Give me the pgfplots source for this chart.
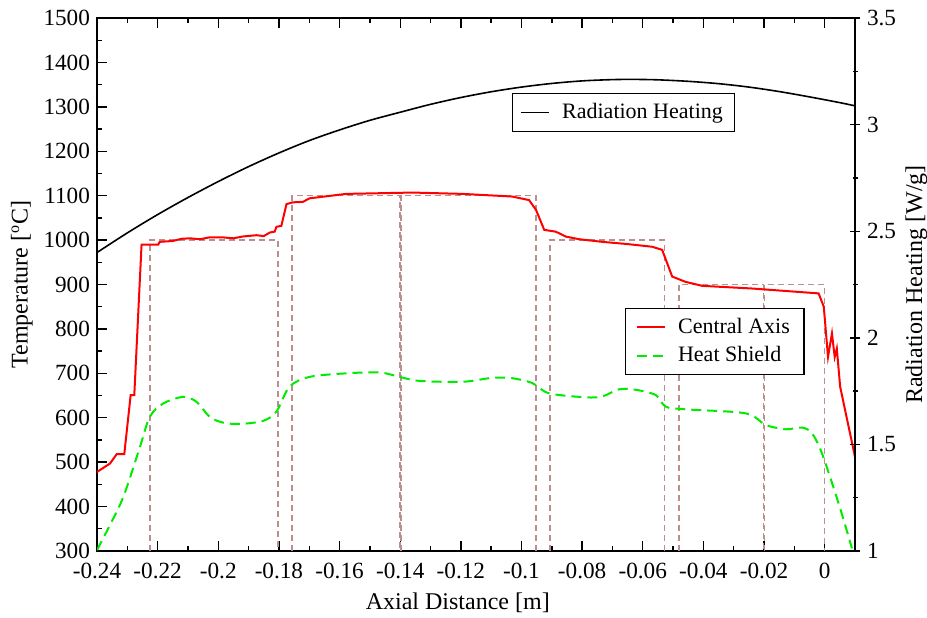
\documentclass[border=0pt]{standalone}
\usepackage{pgfplots}
\pgfplotsset{compat=1.18}
\usepackage{fontspec}
\setmainfont{Liberation Serif}
\definecolor{boxc}{RGB}{188,143,143}
\definecolor{gr}{RGB}{0,235,0}
\begin{document}
\begin{tikzpicture}[font=\fontsize{12}{14}\selectfont]
\useasboundingbox (-48.5pt,-33pt) rectangle (415pt,275.5pt);
\pgfplotsset{
  common/.style={
    scale only axis, width=379pt, height=266.5pt, at={(0,0)}, anchor=south west,
    xmin=-0.24, xmax=0.01,
    tick align=inside,
    major tick length=5pt, minor tick length=2.5pt,
    every tick/.style={black, line width=0.7pt},
    every minor tick/.style={black, line width=0.7pt},
    tick label style={font=\fontsize{11.6}{13}\selectfont},
    /pgf/number format/assume math mode=true,
    /pgf/number format/1000 sep={},
    legend image code/.code={\draw[##1] (0cm,0cm) -- (0.5cm,0cm);},
  },
  bx/.style={boxc, line width=0.7pt, dash pattern=on 3pt off 2pt, forget plot},
}
\begin{axis}[common,
  axis line style={line width=0.8pt},
  ymin=300, ymax=1500,
  ytick={300,400,...,1500}, minor y tick num=1,
  xtick={-0.24,-0.22,-0.2,-0.18,-0.16,-0.14,-0.12,-0.1,-0.08,-0.06,-0.04,-0.02,0},
  xticklabels={-0.24,-0.22,-0.2,-0.18,-0.16,-0.14,-0.12,-0.1,-0.08,-0.06,-0.04,-0.02,0},
  minor x tick num=1,
  xtick pos=both, ytick pos=left,
  scaled x ticks=false,
  xticklabel style={yshift=-2.5pt},
  xlabel={Axial Distance [m]},
  ylabel={Temperature [\textsuperscript{o}C]},
  xlabel style={at={(axis description cs:0.476,-0.097)}, anchor=center},
  ylabel style={at={(axis description cs:-0.099,0.5)}, anchor=center},
  legend style={draw=black, line width=0.6pt, at={(0.815,0.393)}, anchor=center,
    font=\fontsize{11}{13}\selectfont,
    cells={anchor=west}, inner xsep=5pt, inner ysep=3pt, row sep=1pt,
    /tikz/every odd column/.append style={column sep=4pt}},
]
% dashed boxes
\addplot[bx] coordinates {(-0.2225,300) (-0.2225,1000) (-0.1803,1000) (-0.1803,300)};
\addplot[bx] coordinates {(-0.1757,300) (-0.1757,1100) (-0.1401,1100) (-0.1401,300)};
\addplot[bx] coordinates {(-0.1398,300) (-0.1398,1100) (-0.0952,1100) (-0.0952,300)};
\addplot[bx] coordinates {(-0.0906,300) (-0.0906,1000) (-0.0528,1000) (-0.0528,300)};
\addplot[bx] coordinates {(-0.0481,300) (-0.0481,900) (-0.0202,900) (-0.0202,300)};
\addplot[bx] coordinates {(-0.0199,300) (-0.0199,900) (0.0,900) (0.0,300)};
% central axis
\addplot[red, line width=1pt] coordinates {
(-0.2400,478) (-0.2357,497) (-0.2335,518) (-0.2310,518) (-0.2289,651) (-0.2277,651)
(-0.2253,990) (-0.2198,990) (-0.2193,996) (-0.2150,998) (-0.2120,1003) (-0.2094,1004)
(-0.2060,1002) (-0.2030,1006) (-0.1984,1006) (-0.1950,1004) (-0.1920,1008) (-0.1874,1011)
(-0.1850,1009) (-0.1830,1017) (-0.1814,1019) (-0.1808,1030) (-0.1792,1032) (-0.1775,1081)
(-0.1754,1085) (-0.1721,1086) (-0.1699,1094) (-0.1578,1104) (-0.1359,1107) (-0.1194,1104)
(-0.1030,1098) (-0.0975,1090) (-0.0952,1068) (-0.0925,1023) (-0.0887,1019) (-0.0854,1008)
(-0.0810,1002) (-0.0733,996) (-0.0650,991) (-0.0569,985) (-0.0536,978) (-0.0503,918)
(-0.0459,906) (-0.0404,897) (-0.0240,891) (-0.0020,880) (-0.0003,850) (0.0011,737)
(0.0024,790) (0.0033,737) (0.0040,756) (0.0051,670) (0.0100,512)
};
\addlegendentry{Central Axis}
% heat shield
\addplot[gr, line width=1pt, dash pattern=on 5pt off 3pt, smooth, tension=0.5] coordinates {
(-0.2400,302) (-0.2360,355) (-0.2313,422) (-0.2258,535) (-0.2226,602) (-0.2182,632)
(-0.2116,647) (-0.2072,636) (-0.2028,602) (-0.1984,589) (-0.1929,586) (-0.1852,593)
(-0.1808,614) (-0.1765,670) (-0.1699,692) (-0.1578,700) (-0.1468,702) (-0.1402,692)
(-0.1337,683) (-0.1194,681) (-0.1095,690) (-0.1030,689) (-0.0964,678) (-0.0909,655)
(-0.0788,646) (-0.0733,648) (-0.0678,664) (-0.0623,663) (-0.0557,651) (-0.0524,625)
(-0.0459,619) (-0.0261,610) (-0.0195,584) (-0.0129,574) (-0.0075,578) (-0.0042,565)
(-0.0009,520) (0.0046,407) (0.0090,306)
};
\addlegendentry{Heat Shield}
\end{axis}
\begin{axis}[common,
  axis x line=none, axis y line=right,
  y axis line style={-, line width=0.8pt},
  ymin=1, ymax=3.5,
  ytick={1,1.5,...,3.5}, minor y tick num=1,
  ylabel={Radiation Heating [W/g]},
  ylabel style={at={(axis description cs:1.081,0.5)}, anchor=center},
  legend style={draw=black, line width=0.6pt, at={(0.6946,0.8227)}, anchor=center,
    font=\fontsize{11}{13}\selectfont,
    cells={anchor=west}, inner xsep=4pt, inner ysep=3pt,
    /tikz/every odd column/.append style={column sep=4pt}},
]
\addplot[black, line width=0.8pt, smooth] coordinates {
(-0.2400,2.400) (-0.2300,2.492) (-0.2200,2.578) (-0.2100,2.658) (-0.2000,2.733)
(-0.1900,2.803) (-0.1800,2.867) (-0.1700,2.925) (-0.1600,2.975) (-0.1500,3.020)
(-0.1400,3.058) (-0.1300,3.095) (-0.1200,3.127) (-0.1100,3.154) (-0.1000,3.176)
(-0.0900,3.193) (-0.0800,3.205) (-0.0700,3.211) (-0.0630,3.212) (-0.0550,3.210)
(-0.0450,3.203) (-0.0350,3.192) (-0.0250,3.176) (-0.0150,3.155) (-0.0050,3.130)
(0.0050,3.103) (0.0100,3.088)
};
\addlegendentry{Radiation Heating}
\end{axis}
\end{tikzpicture}
\end{document}
